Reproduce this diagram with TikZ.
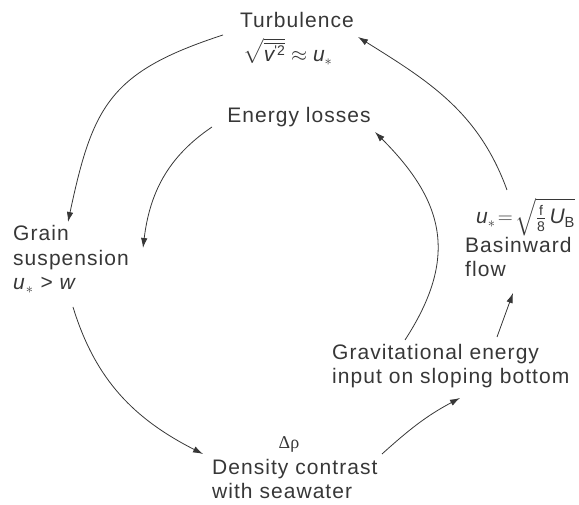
\documentclass[tikz,border=0pt]{standalone}
\usepackage{amsmath}
\usepackage{fontspec}
\setmainfont{Liberation Sans}[LetterSpace=5]
\newfontfamily\greekserif{Liberation Serif}
\usetikzlibrary{arrows.meta}
\definecolor{ink}{RGB}{55,55,55}
\newcommand{\smalltxt}[1]{\mbox{\fontsize{14}{14}\selectfont #1}}
\begin{document}
\begin{tikzpicture}[x=1pt,y=1pt,
  lbl/.style={inner sep=0pt, text=ink, font=\fontsize{21}{24.5}\selectfont},
  flowarrow/.style={draw=ink, line width=0.8pt, -{Latex[length=10pt,width=6.5pt]}}]
\useasboundingbox (0,0) rectangle (579,505);

% text nodes (multi-line nodes are anchored at the baseline of their last line)
\node[lbl, anchor=base] (turb) at (297,477) {Turbulence};
\node[lbl, anchor=base west] (turbeq) at (243,443)
  {$\sqrt{\overline{\text{\itshape v}^{\smalltxt{\textquotesingle 2}}}}\approx\text{\itshape u}_{*}$};
\node[lbl, anchor=base] (loss) at (299,382) {Energy losses};
\node[lbl, anchor=base west, align=left] (grain) at (13,215)
  {Grain\\suspension\\\textit{u}$_{*}$ > \textit{w}};
\node[lbl, anchor=base west] (basineq) at (476,281)
  {$\text{\itshape u}_{*}\!=\!\sqrt{\frac{\smalltxt{f}}{\smalltxt{8}}\,\text{\itshape U}_{\text{B}}}$};
\node[lbl, anchor=base west, align=left] (basin) at (465,228) {Basinward\\flow};
\node[lbl, anchor=base west, align=left] (grav) at (332,121)
  {Gravitational energy\\input on sloping bottom};
\node[lbl, anchor=base, font={\fontsize{18}{18}\greekserif}] (drho) at (289,56) {Δρ};
\node[lbl, anchor=base west, align=left] (dens) at (212,6)
  {Density contrast\\with seawater};

% connector ends
\coordinate (a1) at (223,470); \coordinate (a2) at (68,283);
\coordinate (c1) at (212,378); \coordinate (c2) at (143,257);
\coordinate (b1) at (507,315); \coordinate (b2) at (358,468);
\coordinate (d1) at (405,165); \coordinate (d2) at (375,373);
\coordinate (g1) at (497,168); \coordinate (g2) at (513,212);
\coordinate (e1) at (73,198);  \coordinate (e2) at (203,51);
\coordinate (f1) at (382,51);  \coordinate (f2) at (460,107);

\draw[flowarrow] (a1) to[out=198,in=78,looseness=1.25] (a2);
\draw[flowarrow] (c1) to[out=214,in=83] (c2);
\draw[flowarrow] (b1) to[out=110,in=328] (b2);
\draw[flowarrow] (d1) to[out=57,in=315,looseness=1.2] (d2);
\draw[flowarrow] (g1) -- (g2);
\draw[flowarrow] (e1) to[out=287,in=153] (e2);
\draw[flowarrow] (f1) to[out=42,in=208] (f2);
\end{tikzpicture}
\end{document}
